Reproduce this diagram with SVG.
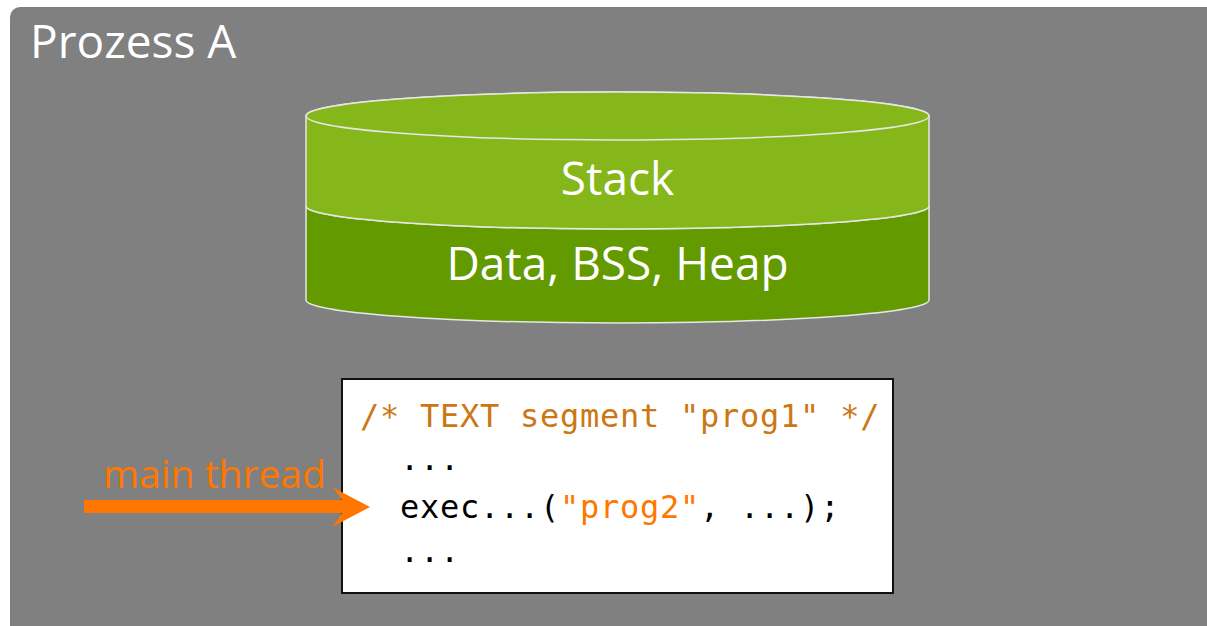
<svg xmlns="http://www.w3.org/2000/svg" width="1207" height="626" viewBox="0 0 1207 626">
  <style>
    .sans { font-family: "Open Sans", "Noto Sans", "Liberation Sans", sans-serif; }
    .label { fill: #ffffff; font-size: 46px; }
    .code { font-family: "DejaVu Sans Mono", "Liberation Mono", monospace; font-size: 32px; letter-spacing: 0.74px; fill: #000000; }
    .comment { fill: #cc7714; }
    .str { fill: #ff7700; }
    .seg { stroke: #e6e6e6; stroke-width: 1.5; }
  </style>
  <rect x="0" y="0" width="1207" height="626" fill="#ffffff"/>

  <!-- process container -->
  <g id="process">
    <rect x="10" y="7" width="1220" height="640" rx="10" fill="#808080"/>
    <text class="sans label" x="30" y="58">Prozess A</text>
  </g>

  <!-- memory cylinder: lower segment -->
  <g id="data-segment">
    <path class="seg" fill="#639a00" d="M306,206 L306,300 A311.5,23 0 0 0 929,300 L929,206 A311.5,23 0 0 1 306,206 Z"/>
    <text class="sans label" x="617.5" y="280" text-anchor="middle">Data, BSS, Heap</text>
  </g>

  <!-- memory cylinder: upper segment -->
  <g id="stack-segment">
    <path class="seg" fill="#86b71a" d="M306,116 L306,206 A311.5,23 0 0 0 929,206 L929,116 A311.5,24 0 0 0 306,116 Z"/>
    <ellipse class="seg" cx="617.5" cy="116" rx="311.5" ry="24" fill="#86b71a"/>
    <text class="sans label" x="617.5" y="195" text-anchor="middle">Stack</text>
  </g>

  <!-- text segment listing -->
  <g id="text-segment">
    <rect x="342" y="379" width="551" height="214" fill="#ffffff" stroke="#111111" stroke-width="2"/>
    <text class="code comment" x="360" y="427" xml:space="preserve">/* TEXT segment "prog1" */</text>
    <text class="code" x="400" y="470">...</text>
    <text class="code" x="400" y="518">exec...(<tspan class="str">"prog2"</tspan>, ...);</text>
    <text class="code" x="400" y="562">...</text>
  </g>

  <!-- thread pointer -->
  <g id="connectors">
    <path fill="#ff7700" d="M84,500 L342,500 Q338,493 332,487 L370,507 L332,527 Q338,520 342,513 L84,513 Z"/>
    <text class="sans" x="103" y="488" font-size="39" fill="#ff7700">main thread</text>
  </g>
</svg>
